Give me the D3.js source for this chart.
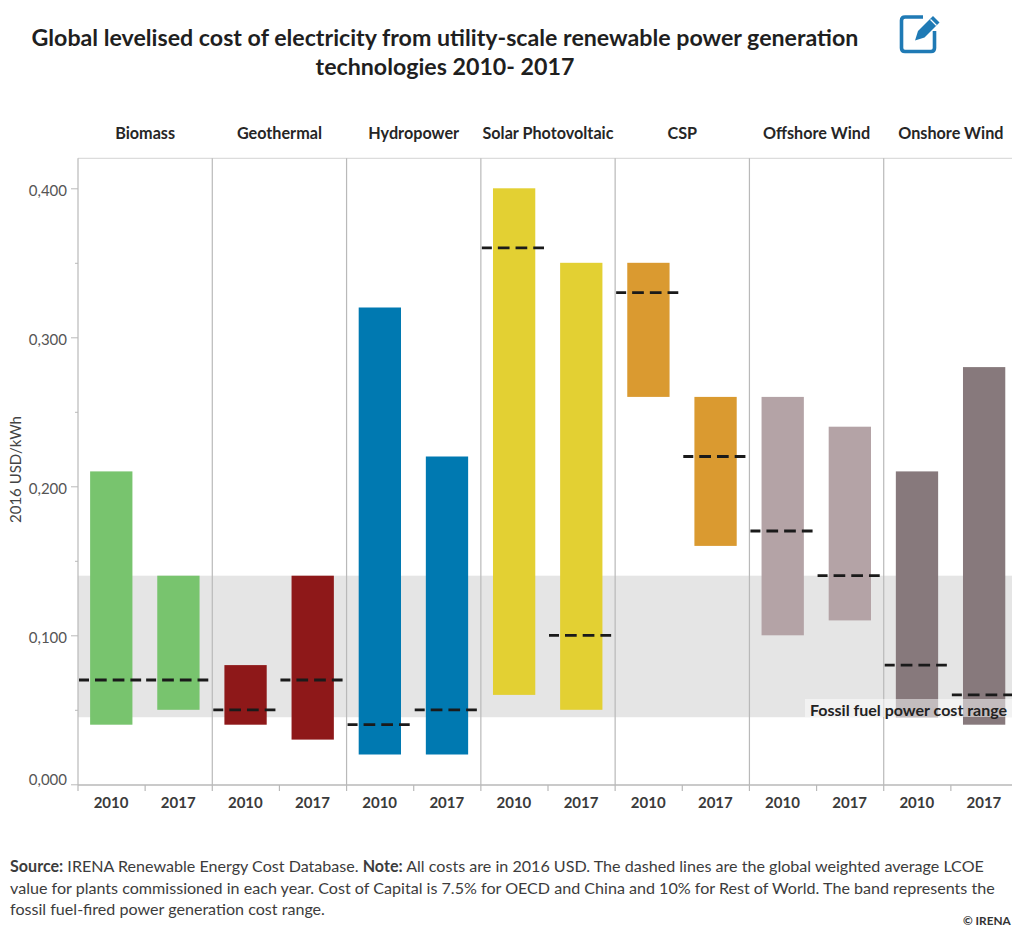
<!DOCTYPE html>
<html>
<head>
<meta charset="utf-8">
<script src="https://cdn.jsdelivr.net/npm/d3@7/dist/d3.min.js"></script>
<style>
  html, body { margin: 0; padding: 0; background: #fff; overflow: hidden; }
  svg { display: block; font-family: Lato, "Open Sans", sans-serif; }
</style>
</head>
<body>
<svg id="chart" width="1012" height="932"></svg>
<script>
// LCOE ranges per technology, one low/high/average triple per commissioning year
const technologies = ["Biomass", "Geothermal", "Hydropower", "Solar Photovoltaic", "CSP", "Offshore Wind", "Onshore Wind"];
const years = ["2010", "2017"];
const colors = ["#78c46e", "#8e1819", "#0079b1", "#e3d033", "#da9a30", "#b4a3a6", "#87797c"];
const lowValues = [0.04, 0.05, 0.04, 0.03, 0.02, 0.02, 0.06, 0.05, 0.26, 0.16, 0.10, 0.11, 0.045, 0.04];
const highValues = [0.21, 0.14, 0.08, 0.14, 0.32, 0.22, 0.40, 0.35, 0.35, 0.26, 0.26, 0.24, 0.21, 0.28];
const averageValues = [0.07, 0.07, 0.05, 0.07, 0.04, 0.05, 0.36, 0.10, 0.33, 0.22, 0.17, 0.14, 0.08, 0.06];
const fossilBand = [0.045, 0.14];
const yTicks = [0, 0.05, 0.1, 0.15, 0.2, 0.25, 0.3, 0.35, 0.4];
const majorTicks = [0, 0.1, 0.2, 0.3, 0.4];

const rows = lowValues.map((low, i) => ({
  tech: technologies[Math.floor(i / 2)],
  techIndex: Math.floor(i / 2),
  year: years[i % 2],
  key: i,
  low, high: highValues[i], avg: averageValues[i]
}));

const svg = d3.select("#chart");
const plot = { left: 78, right: 1018, top: 158.3, bottom: 785 };

const y = d3.scaleLinear().domain([0, 0.4]).range([784.3, 188.3]);
const xPanel = d3.scaleBand().domain(technologies).range([plot.left, plot.right]);
const x = d3.scaleBand().domain(rows.map(d => d.key)).range([plot.left, plot.right]);
const barWidth = 42.3;
const gridColor = "#b9b9b9";

// Title
svg.append("text").attr("text-anchor", "middle").attr("font-weight", 700)
  .attr("font-size", 23.2).attr("fill", "#1f1f1f")
  .selectAll("tspan")
  .data(["Global levelised cost of electricity from utility-scale renewable power generation", "technologies 2010- 2017"])
  .join("tspan")
  .attr("x", 445).attr("y", (d, i) => 46 + i * 29).text(d => d);

// Edit icon beside the title
const icon = svg.append("g").attr("transform", "translate(900,14)");
icon.append("path")
  .attr("d", "M23 3 H5 Q1.5 3 1.5 6.5 V34 Q1.5 37.5 5 37.5 H31 Q34.5 37.5 34.5 34 V17")
  .attr("fill", "none").attr("stroke", "#1f7ab5").attr("stroke-width", 3.6);
icon.append("path")
  .attr("d", "M15 26.5 L18 17 L33 2 L39.5 8.5 L24.5 23.5 Z")
  .attr("fill", "#1f7ab5");
icon.append("path")
  .attr("d", "M30.5 5.5 L36.5 11.5")
  .attr("stroke", "#fff").attr("stroke-width", 1.2);

// Fossil fuel cost band
svg.append("rect")
  .attr("x", plot.left).attr("width", 1012 - plot.left)
  .attr("y", y(fossilBand[1])).attr("height", y(fossilBand[0]) - y(fossilBand[1]))
  .attr("fill", "#e5e5e5");

// Frame line along the top of the plot
svg.append("line")
  .attr("x1", plot.left).attr("x2", 1012).attr("y1", plot.top).attr("y2", plot.top)
  .attr("stroke", "#dcdcdc").attr("stroke-width", 1.2);

// Range bars
svg.append("g").selectAll("rect").data(rows).join("rect")
  .attr("x", d => x(d.key) + (x.bandwidth() - barWidth) / 2 - 0.3)
  .attr("width", barWidth)
  .attr("y", d => y(d.high))
  .attr("height", d => y(d.low) - y(d.high))
  .attr("fill", d => colors[d.techIndex]);

// Separators between technologies
svg.append("g").selectAll("line").data(technologies.slice(1)).join("line")
  .attr("x1", d => xPanel(d)).attr("x2", d => xPanel(d))
  .attr("y1", plot.top).attr("y2", plot.bottom)
  .attr("stroke", gridColor).attr("stroke-width", 1.2);

// Label for the band, on a translucent plate
svg.append("rect")
  .attr("x", 805).attr("y", 699).attr("width", 207).attr("height", 18)
  .attr("fill", "#fff").attr("fill-opacity", 0.5);
svg.append("text")
  .attr("x", 810).attr("y", 716).attr("font-size", 16).attr("font-weight", 700)
  .attr("fill", "#222").text("Fossil fuel power cost range");

// Weighted average markers
svg.append("g").selectAll("line").data(rows).join("line")
  .attr("x1", d => x(d.key) + 1).attr("x2", d => x(d.key) + x.bandwidth() - 4)
  .attr("y1", d => y(d.avg)).attr("y2", d => y(d.avg))
  .attr("stroke", "#1a1a1a").attr("stroke-width", 2.8)
  .attr("stroke-dasharray", "11.7 6").attr("stroke-dashoffset", 1.7);

// Y axis
const yAxis = svg.append("g").attr("transform", `translate(${plot.left},0)`)
  .call(d3.axisLeft(y).tickValues(yTicks).tickSize(7).tickPadding(4)
    .tickFormat(d => majorTicks.includes(d) ? d3.format(".3f")(d).replace(".", ",") : ""));
yAxis.select(".domain").attr("d", `M0,${plot.top}V${plot.bottom}`).attr("stroke", gridColor).attr("stroke-width", 1.2);
yAxis.selectAll(".tick line")
  .attr("stroke", gridColor)
  .attr("x2", d => majorTicks.includes(d) ? -7 : -3);
yAxis.selectAll(".tick text")
  .attr("font-family", "Lato, sans-serif").attr("font-size", 15).attr("fill", "#555")
  .attr("x", -11)
  .attr("dy", d => d === 0 ? "0em" : "0.46em");

// X axis with one tick at every band edge
const edgeTicks = d3.range(0, 15).map(i => plot.left + i * x.bandwidth());
svg.append("line")
  .attr("x1", plot.left).attr("x2", 1012).attr("y1", plot.bottom).attr("y2", plot.bottom)
  .attr("stroke", gridColor).attr("stroke-width", 1.4);
svg.append("g").selectAll("line").data(edgeTicks).join("line")
  .attr("x1", d => d).attr("x2", d => d)
  .attr("y1", plot.bottom).attr("y2", 791)
  .attr("stroke", gridColor).attr("stroke-width", 1.2);
svg.append("g").selectAll("text").data(rows).join("text")
  .attr("x", d => x(d.key) + x.bandwidth() / 2 - 0.5).attr("y", 808)
  .attr("text-anchor", "middle").attr("font-size", 15).attr("font-weight", 700)
  .attr("fill", "#3a3a3a").text(d => d.year);

// Technology headers
svg.append("g").selectAll("text").data(technologies).join("text")
  .attr("x", d => xPanel(d) + xPanel.bandwidth() / 2)
  .attr("y", 138.5).attr("text-anchor", "middle")
  .attr("font-size", 16.2).attr("font-weight", 700).attr("fill", "#262626")
  .text(d => d);

// Y axis title
svg.append("text")
  .attr("transform", "translate(21,523) rotate(-90)")
  .attr("text-anchor", "start").attr("font-size", 15).attr("fill", "#444")
  .text("2016 USD/kWh");

// Source note
const noteLines = [
  [["Source:", 700], [" IRENA Renewable Energy Cost Database. ", 400], ["Note:", 700], [" All costs are in 2016 USD. The dashed lines are the global weighted average LCOE", 400]],
  [["value for plants commissioned in each year. Cost of Capital is 7.5% for OECD and China and 10% for Rest of World. The band represents the", 400]],
  [["fossil fuel-fired power generation cost range.", 400]]
];
const note = svg.append("g").attr("font-size", 16.1).attr("fill", "#3c3c3c");
noteLines.forEach((parts, i) => {
  const line = note.append("text").attr("x", 10).attr("y", 872 + i * 21.5).attr("xml:space", "preserve");
  parts.forEach(([text, weight]) => line.append("tspan").attr("font-weight", weight).text(text));
});
svg.append("text").attr("x", 963).attr("y", 925)
  .attr("font-size", 11.8).attr("font-weight", 700).attr("fill", "#333").text("© IRENA");
</script>
</body>
</html>
